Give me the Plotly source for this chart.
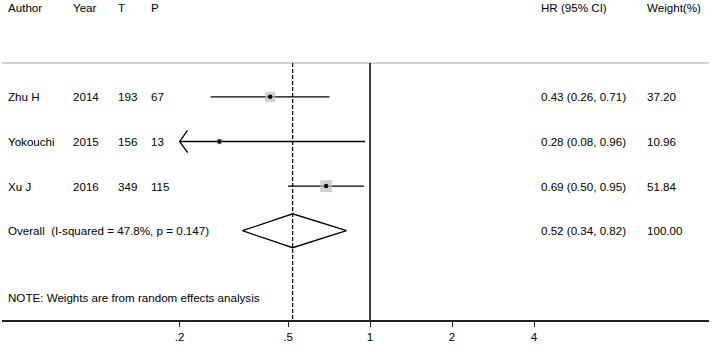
import math
import plotly.graph_objects as go

# ---------------- data ----------------
authors = ["Zhu H", "Yokouchi", "Xu J"]
years = ["2014", "2015", "2016"]
t_n = ["193", "156", "349"]
p_n = ["67", "13", "115"]
hr = [0.43, 0.28, 0.69]
ci_lo = [0.26, 0.08, 0.50]
ci_hi = [0.71, 0.96, 0.95]
weights = [37.20, 10.96, 51.84]

overall_label = "Overall  (I-squared = 47.8%, p = 0.147)"
overall_hr = 0.52
overall_lo = 0.34
overall_hi = 0.82
overall_weight = 100.00

headers = ["Author", "Year", "T", "P", "HR (95% CI)", "Weight(%)"]
note = "NOTE: Weights are from random effects analysis"

tick_vals = [0.2, 0.5, 1, 2, 4]
tick_text = [".2", ".5", "1", "2", "4"]

# ---------------- layout constants ----------------
W, H = 713, 345
ML, MR, MT, MB = 2, 4, 0, 25
PW = W - ML - MR
FONT = "Liberation Sans, Arial, sans-serif"
FS = 11.6
x_clip = 0.2  # lower display limit for CIs (arrow when beyond)

# x axis: log scale, 1 at pixel 370, 82 px per doubling
px_per_dec = 82 / math.log10(2)
x_left = -(370 - ML) / px_per_dec
x_right = (W - MR - 370) / px_per_dec

# y: row index coordinates
y_top, y_bottom = -1.17, 6.0
header_row = -1
study_rows = [1, 2, 3]
overall_row = 4
note_row = 5.5
sep_row = 0.24


def pxx(px):
    return (px - ML) / PW


col_px = {"author": 6, "year": 71, "t": 116, "p": 149, "hr": 539, "w": 645}

fig = go.Figure()

# CI lines (clipped with arrow)
for i, r in enumerate(study_rows):
    lo = max(ci_lo[i], x_clip)
    fig.add_trace(go.Scatter(x=[lo, ci_hi[i]], y=[r, r], mode="lines",
                             line=dict(color="black", width=1.3),
                             hoverinfo="skip", showlegend=False))
    if ci_lo[i] < x_clip:
        ax = x_clip * 2 ** (8 / 82)
        fig.add_trace(go.Scatter(x=[ax, x_clip, ax], y=[r - 0.25, r, r + 0.25],
                                 mode="lines", line=dict(color="black", width=1.3),
                                 hoverinfo="skip", showlegend=False))

# weight squares
fig.add_trace(go.Scatter(
    x=hr, y=study_rows, mode="markers",
    marker=dict(symbol="square", color="#bdbdbd",
                size=[1.67 * math.sqrt(w) for w in weights], line=dict(width=0)),
    hoverinfo="skip", showlegend=False))
# point estimates
fig.add_trace(go.Scatter(
    x=hr, y=study_rows, mode="markers",
    marker=dict(symbol="circle", color="black", size=4.5),
    hoverinfo="skip", showlegend=False))

# overall diamond
dh = 0.38
fig.add_trace(go.Scatter(
    x=[overall_lo, overall_hr, overall_hi, overall_hr, overall_lo],
    y=[overall_row, overall_row - dh, overall_row, overall_row + dh, overall_row],
    mode="lines", line=dict(color="black", width=1.3),
    hoverinfo="skip", showlegend=False))

shapes = [
    # separator line under header
    dict(type="line", xref="paper", yref="y", x0=0, x1=1, y0=sep_row, y1=sep_row,
         line=dict(color="#c4c4c4", width=1.6), layer="above"),
    # line of no effect
    dict(type="line", xref="x", yref="y", x0=1, x1=1, y0=sep_row, y1=y_bottom,
         line=dict(color="black", width=1.5)),
    # overall effect dashed
    dict(type="line", xref="x", yref="y", x0=overall_hr, x1=overall_hr,
         y0=sep_row, y1=y_bottom, line=dict(color="black", width=1.2, dash="4px,2px")),
]

annotations = []


def txt(px, row, s):
    annotations.append(dict(x=pxx(px), y=row, xref="paper", yref="y", text=s,
                            showarrow=False, xanchor="left", yanchor="middle",
                            font=dict(family=FONT, size=FS, color="black")))


keys = ["author", "year", "t", "p", "hr", "w"]
for k, h in zip(keys, headers):
    txt(col_px[k], header_row, h)

for i, r in enumerate(study_rows):
    txt(col_px["author"], r, authors[i])
    txt(col_px["year"], r, years[i])
    txt(col_px["t"], r, t_n[i])
    txt(col_px["p"], r, p_n[i])
    txt(col_px["hr"], r, f"{hr[i]:.2f} ({ci_lo[i]:.2f}, {ci_hi[i]:.2f})")
    txt(col_px["w"], r, f"{weights[i]:.2f}")

txt(col_px["author"], overall_row, overall_label)
txt(col_px["hr"], overall_row, f"{overall_hr:.2f} ({overall_lo:.2f}, {overall_hi:.2f})")
txt(col_px["w"], overall_row, f"{overall_weight:.2f}")
txt(col_px["author"], note_row, note)

fig.update_layout(
    width=W, height=H,
    margin=dict(l=ML, r=MR, t=MT, b=MB),
    paper_bgcolor="white", plot_bgcolor="white",
    shapes=shapes, annotations=annotations,
    xaxis=dict(type="log", range=[x_left, x_right], showgrid=False, zeroline=False,
               showline=True, linecolor="#222", linewidth=1.5,
               ticks="outside", ticklen=5, tickwidth=1.2, tickcolor="#222",
               tickvals=tick_vals, ticktext=tick_text,
               tickfont=dict(family=FONT, size=FS, color="black")),
    yaxis=dict(range=[y_bottom, y_top], visible=False, showgrid=False, zeroline=False),
    font=dict(family=FONT),
)

fig.write_html(
    "out.html",
    config={"displayModeBar": False},
    post_script="document.body.style.margin='0';document.body.style.overflow='hidden';",
)
